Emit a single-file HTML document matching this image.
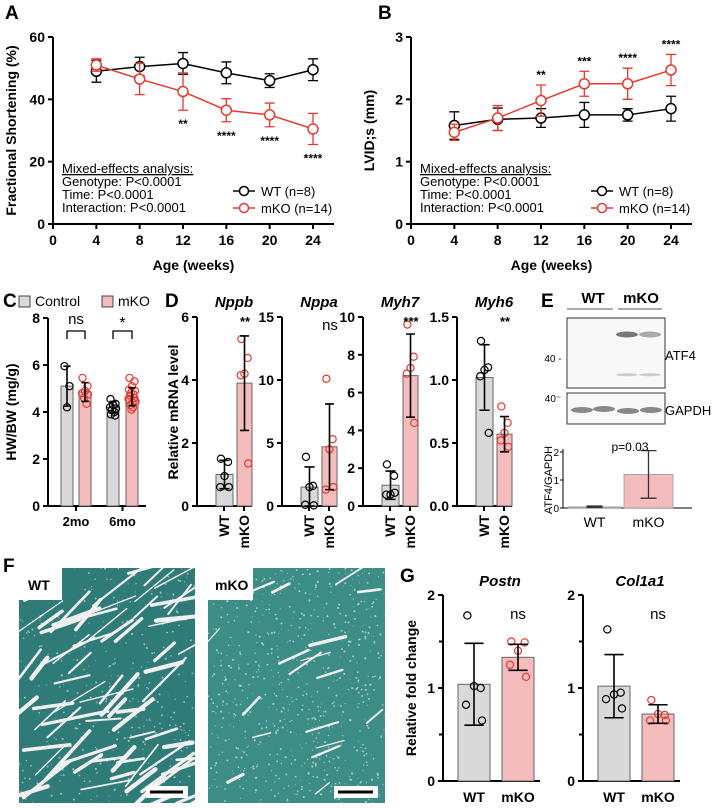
<!DOCTYPE html>
<html><head><meta charset="utf-8">
<style>
html,body{margin:0;padding:0;background:#fff;}
svg{display:block;font-family:"Liberation Sans",Arial,sans-serif;}
</style></head>
<body>
<svg id="fig" width="713" height="808" viewBox="0 0 713 808" xmlns="http://www.w3.org/2000/svg">
<defs>
<clipPath id="clipWT"><path d="M62,568 H195 V803 H19 V600 H62 Z"/></clipPath>
<clipPath id="clipKO"><path d="M253,568 H385 V803 H208 V600 H253 Z"/></clipPath>
</defs>
</svg>
<script>
// ---- Panel A data ----
const ageWeeks=[4,8,12,16,20,24];
const fsWT=[49,50.5,51.5,48.5,46,49.5];
const fsWTErr=[3.5,3,3.5,3.5,2.2,3.5];
const fsKO=[51,46.5,42.5,36.5,35,30.5];
const fsKOErr=[2,5,6,3.7,3.8,5];
const fsStars=['','','**','****','****','****'];
const fsTicks=[0,20,40,60];
// ---- Panel B data ----
const lvWT=[1.58,1.68,1.7,1.75,1.75,1.85];
const lvWTErr=[0.22,0.18,0.15,0.2,0.1,0.2];
const lvKO=[1.47,1.7,1.98,2.25,2.25,2.47];
const lvKOErr=[0.13,0.2,0.25,0.2,0.25,0.25];
const lvStars=['','','**','***','****','****'];
const lvTicks=[0,1,2,3];
const xTicks=[0,4,8,12,16,20,24];
// ---- Panel C data ----
const hwGroups=['2mo','6mo'];
const hwCtrl=[5.1,4.2];
const hwCtrlErr=[0.85,0.25];
const hwKO=[4.85,4.65];
const hwKOErr=[0.4,0.38];
const hwCtrlPts=[[5.95,5.1,4.2],[4.55,4.35,4.3,4.2,4.15,4.1,4.0,3.9,3.85]];
const hwKOPts=[[5.45,5.1,4.9,4.8,4.75,4.6,4.35],[5.45,5.3,5.1,4.95,4.9,4.8,4.75,4.7,4.6,4.55,4.45,4.4,4.3,4.2,4.1]];
const hwSig=['ns','*'];
const hwTicks=[0,2,4,6,8];
// ---- Panel D data ----
const dGenes=['Nppb','Nppa','Myh7','Myh6'];
const dWT=[1.0,1.5,1.1,1.02];
const dWTErr=[0.45,1.6,0.75,0.26];
const dKO=[3.9,4.7,6.9,0.57];
const dKOErr=[1.5,3.4,2.2,0.14];
const dWTPts=[[1.5,1.4,0.95,0.6,0.6],[3.9,1.6,1.5,0.1,0.05],[2.2,1.6,0.6,0.6,0.7],[1.31,1.1,1.08,1.03,0.58]];
const dKOPts=[[5.3,4.7,4.2,4.15,1.35],[10.1,5.3,4.5,1.3,1.5],[9.6,7.9,7.3,7.0,4.4],[0.79,0.66,0.58,0.52,0.47]];
const dSig=['**','ns','***','**'];
const dMax=[6,15,10,1.5];
const dTicks=[[0,2,4,6],[0,5,10,15],[0,2,4,6,8,10],[0,0.5,1.0,1.5]];
const dTickLabels=[['0','2','4','6'],['0','5','10','15'],['0','2','4','6','8','10'],['0.0','0.5','1.0','1.5']];
// ---- Panel E data ----
const atfCats=['WT','mKO'];
const atfVals=[0.04,1.2];
const atfErrLo=[0.02,0.35];
const atfErrHi=[0.07,2.05];
const atfTicks=[0,1,2];
// ---- Panel G data ----
const gGenes=['Postn','Col1a1'];
const gWT=[1.04,1.02];
const gWTErr=[0.44,0.34];
const gKO=[1.33,0.72];
const gKOErr=[0.14,0.1];
const gWTPts=[[1.78,1.0,1.02,0.82,0.65],[1.63,0.95,0.93,0.88,0.78]];
const gKOPts=[[1.5,1.49,1.4,1.25,1.12],[0.87,0.71,0.72,0.65,0.65]];
const gSig=['ns','ns'];
const gTicks=[0,1,2];

const NS='http://www.w3.org/2000/svg';
const svg=document.getElementById('fig');
const RED='#e8392e', GRAY='#d9d9d9', PINK='#f4bcbc';
function mk(tag,attrs,parent){const e=document.createElementNS(NS,tag);for(const k in attrs)e.setAttribute(k,attrs[k]);(parent||svg).appendChild(e);return e;}
function txt(s,x,y,size,weight,anchor,parent,extra){const t=mk('text',Object.assign({x:x,y:y,'font-size':size,'font-weight':weight||'normal','text-anchor':anchor||'middle',fill:'#000'},extra||{}),parent);t.textContent=s;return t;}
function grp(name){const g=mk('g',{});return g;}

// panel letters
[['A',5,19],['B',378,19],['C',3,307],['D',165,307],['E',541,307],['F',3,572],['G',400,582]].forEach(function(p){
  const t=txt(p[0],p[1],p[2],19,'bold','start');
  
  
});

// ---------- Line charts ----------
function lineChart(c){
  const g=grp(c.name);
  const xs=v=>c.ax+v/24*(c.x24-c.ax);
  const ys=v=>c.y0-v/c.ymax*(c.y0-c.yTop);
  const axes=grp(c.name+'-axes');g.appendChild(axes);
  mk('line',{x1:c.ax,y1:c.yTop,x2:c.ax,y2:c.y0,stroke:'#000','stroke-width':2},axes);
  mk('line',{x1:c.ax,y1:c.y0,x2:c.xEnd,y2:c.y0,stroke:'#000','stroke-width':2},axes);
  c.yticks.forEach(v=>{mk('line',{x1:c.ax-5,y1:ys(v),x2:c.ax,y2:ys(v),stroke:'#000','stroke-width':2},axes);
    const t=txt(String(v),c.ax-8,ys(v)+5,14,'bold','end',axes);});
  xTicks.forEach(v=>{mk('line',{x1:xs(v),y1:c.y0,x2:xs(v),y2:c.y0+5,stroke:'#000','stroke-width':2},axes);
    const t=txt(String(v),xs(v),c.y0+21,14,'bold','middle',axes);});
  const yt=txt(c.ytitle,0,0,14,'bold','middle',g,{transform:'translate('+(c.ax-37)+','+((c.y0+c.yTop)/2)+') rotate(-90)'});
  
  const xt=txt('Age (weeks)',(c.ax+c.xEnd)/2,c.y0+46,14,'bold','middle',g);
  
  c.series.forEach(s=>{
    const sg=grp(s.name);g.appendChild(sg);
    let d='';ageWeeks.forEach((a,i)=>{d+=(i?'L':'M')+xs(a)+','+ys(s.v[i]);});
    const ln=mk('path',{d:d,fill:'none',stroke:s.color,'stroke-width':1.5},sg);
    
    ageWeeks.forEach((a,i)=>{
      const x=xs(a),hi=ys(s.v[i]+s.e[i]),lo=ys(s.v[i]-s.e[i]);
      const eb=mk('path',{d:'M'+x+','+hi+'V'+lo+'M'+(x-5)+','+hi+'H'+(x+5)+'M'+(x-5)+','+lo+'H'+(x+5),stroke:s.color,'stroke-width':1.3,fill:'none'},sg);
      
      const pt=mk('circle',{cx:x,cy:ys(s.v[i]),r:5,fill:'#fff',stroke:s.color,'stroke-width':1.5},sg);
      
    });
  });
  ageWeeks.forEach((a,i)=>{if(!c.stars[i])return;
    const y=c.starAbove?ys(c.series[1].v[i]+c.series[1].e[i])-6:ys(c.series[1].v[i]-c.series[1].e[i])+18;
    const t=txt(c.stars[i],xs(a),y,12,'bold','middle',g);});
  const sx=c.ax+9;
  const st=grp(c.name+'-stats-text');g.appendChild(st);
  const l1=txt('Mixed-effects analysis:',sx,c.y0-51,13,'normal','start',st);
  l1.setAttribute('text-decoration','underline');
  txt('Genotype: P<0.0001',sx,c.y0-38,13,'normal','start',st);
  txt('Time: P<0.0001',sx,c.y0-25,13,'normal','start',st);
  txt('Interaction: P<0.0001',sx,c.y0-12,13,'normal','start',st);
  const lg=grp(c.name+'-legend');g.appendChild(lg);
  [['WT (n=8)','#000',c.y0-29],['mKO (n=14)',RED,c.y0-12]].forEach(function(L){
    const e=grp('legend-entry');lg.appendChild(e);
    mk('line',{x1:c.ax+180,y1:L[2]-4,x2:c.ax+202,y2:L[2]-4,stroke:L[1],'stroke-width':1.5},e);
    mk('circle',{cx:c.ax+191,cy:L[2]-4,r:4.5,fill:'#fff',stroke:L[1],'stroke-width':1.5},e);
    txt(L[0],c.ax+208,L[2]+1,13,'normal','start',e);
  });
}
lineChart({name:'fractional-shortening-chart',ax:53,x24:313,xEnd:334,y0:224,yTop:37,ymax:60,yticks:fsTicks,ytitle:'Fractional Shortening (%)',stars:fsStars,starAbove:false,
  series:[{name:'wt',v:fsWT,e:fsWTErr,color:'#000'},{name:'mko',v:fsKO,e:fsKOErr,color:RED}]});
lineChart({name:'lvids-chart',ax:411,x24:671,xEnd:692,y0:224,yTop:37,ymax:3,yticks:lvTicks,ytitle:'LVID;s (mm)',stars:lvStars,starAbove:true,
  series:[{name:'wt',v:lvWT,e:lvWTErr,color:'#000'},{name:'mko',v:lvKO,e:lvKOErr,color:RED}]});

// ---------- Bar helpers ----------
const jit=[-5,5,0,-6,6,-2,3,-4,4,-7,7,1,-3,2,-1];
function bar(g,x0,x1,ys,v,e,pts,fill,ptColor,name){
  const bg=grp(name);g.appendChild(bg);
  const r=mk('rect',{x:x0,y:ys(v),width:x1-x0,height:ys(0)-ys(v),fill:fill,stroke:'#666','stroke-width':1},bg);
  
  const cx=(x0+x1)/2,w=(x1-x0)*0.3;
  pts.forEach((p,i)=>{const c=mk('circle',{cx:cx+jit[i%jit.length]*(x1-x0)/24,cy:ys(p),r:3.6,fill:'none',stroke:ptColor,'stroke-width':1.2},bg);
    });
  const hi=ys(v+e),lo=ys(Math.max(v-e,0));
  const eb=mk('path',{d:'M'+cx+','+hi+'V'+lo+'M'+(cx-w)+','+hi+'H'+(cx+w)+'M'+(cx-w)+','+lo+'H'+(cx+w),stroke:'#000','stroke-width':1.6,fill:'none'},bg);
  
}
function yAxis(g,ax,y0,yTop,ymax,ticks,labels,minor){
  const ys=v=>y0-v/ymax*(y0-yTop);
  mk('line',{x1:ax,y1:yTop,x2:ax,y2:y0,stroke:'#000','stroke-width':2},g);
  ticks.forEach((v,i)=>{mk('line',{x1:ax-5,y1:ys(v),x2:ax,y2:ys(v),stroke:'#000','stroke-width':2},g);
    const t=txt(labels?labels[i]:String(v),ax-8,ys(v)+5,14,'bold','end',g);});
  (minor||[]).forEach(v=>mk('line',{x1:ax-4,y1:ys(v),x2:ax,y2:ys(v),stroke:'#000','stroke-width':2},g));
  return ys;
}

// ---------- Panel C ----------
(function(){
  const g=grp('hw-bw-chart');
  const ys=yAxis(g,48,506,318,8,hwTicks);
  mk('line',{x1:48,y1:506,x2:146,y2:506,stroke:'#000','stroke-width':2},g);
  const gx=[[61,73,79,91],[107,119,126,138]];
  hwGroups.forEach((name,i)=>{
    bar(g,gx[i][0],gx[i][1],ys,hwCtrl[i],hwCtrlErr[i],hwCtrlPts[i],GRAY,'#000','bar-control-'+name);
    bar(g,gx[i][2],gx[i][3],ys,hwKO[i],hwKOErr[i],hwKOPts[i],PINK,RED,'bar-mko-'+name);
    const c=(gx[i][0]+gx[i][3])/2;
    mk('line',{x1:c,y1:506,x2:c,y2:511,stroke:'#000','stroke-width':2},g);
    const t=txt(name,c,526,13,'bold','middle',g);
    const b=mk('path',{d:'M'+(gx[i][0]+6)+',339V331H'+(gx[i][3]-6)+'V339',fill:'none',stroke:'#000','stroke-width':1.3},g);
    
    const s=txt(hwSig[i],c,hwSig[i]==='*'?328:324,hwSig[i]==='*'?16:15,'normal','middle',g);
  });
  const yt=txt('HW/BW (mg/g)',0,0,14,'bold','middle',g,{transform:'translate(16,412) rotate(-90)'});
  
  const lg=grp('hw-legend');g.appendChild(lg);
  mk('rect',{x:19,y:296,width:11,height:11,fill:GRAY,stroke:'#444','stroke-width':1},lg);
  txt('Control',35,306,14,'normal','start',lg);
  mk('rect',{x:102,y:296,width:11,height:11,fill:PINK,stroke:'#444','stroke-width':1},lg);
  txt('mKO',118,306,14,'normal','start',lg);
})();

// ---------- Panel D ----------
(function(){
  const axX=[197,282,363,457];
  dGenes.forEach((gene,i)=>{
    const g=grp('mrna-chart-'+gene.toLowerCase());
    const ys=yAxis(g,axX[i],506,317,dMax[i],dTicks[i],dTickLabels[i]);
    const a=axX[i];
    mk('line',{x1:a,y1:506,x2:a+55,y2:506,stroke:'#000','stroke-width':2},g);
    bar(g,a+19,a+36,ys,dWT[i],dWTErr[i],dWTPts[i],GRAY,'#000','bar-wt');
    bar(g,a+40,a+55,ys,dKO[i],dKOErr[i],dKOPts[i],PINK,RED,'bar-mko');
    const t=txt(gene,a+37,307,15,'bold','middle',g,{'font-style':'italic'});
    const s=txt(dSig[i],a+48,dSig[i]==='ns'?330:326,dSig[i]==='ns'?15:13,dSig[i]==='ns'?'normal':'bold','middle',g);
    [['WT',a+27],['mKO',a+47]].forEach(function(L){
      mk('line',{x1:L[1],y1:506,x2:L[1],y2:511,stroke:'#000','stroke-width':2},g);
      const t2=txt(L[0],0,0,14,'bold','end',g,{transform:'translate('+(L[1]+5)+',515) rotate(-90)'});
    });
  });
  const yt=txt('Relative mRNA level',0,0,14,'bold','middle',svg,{transform:'translate(178,412) rotate(-90)'});
  
})();

// ---------- Panel E ----------
(function(){
  const g=grp('western-blot');
  txt('WT',593,303,15,'bold','middle',g);txt('mKO',641,303,15,'bold','middle',g);
  mk('line',{x1:567,y1:309,x2:613,y2:309,stroke:'#555','stroke-width':1},g);
  mk('line',{x1:618,y1:309,x2:662,y2:309,stroke:'#555','stroke-width':1},g);
  mk('rect',{x:567,y:318,width:98,height:70,fill:'#f8f8f8',stroke:'#333','stroke-width':1},g);
  mk('rect',{x:567,y:393,width:98,height:31,fill:'#f8f8f8',stroke:'#333','stroke-width':1},g);
  [[617,333,3,'#777'],[640,333,3,'#aaa'],[617,374,1.5,'#ccc'],[640,374,1.5,'#ccc']].forEach(b=>mk('ellipse',{cx:b[0]+10,cy:b[1]+b[2]/2,rx:11,ry:b[2],fill:b[3]},g));
  [[572,410],[594,409],[618,411],[641,410]].forEach(b=>mk('ellipse',{cx:b[0]+10,cy:b[1],rx:11,ry:3,fill:'#888'},g));
  txt('40 -',553,362,10,'normal','middle',g);txt('40\u207B',553,402,10,'normal','middle',g);
  txt('ATF4',665,360,13,'normal','start',g);txt('GAPDH',665,415,13,'normal','start',g);
  const c=grp('atf4-quant-chart');
  const y0=508,yTop=452,ax=563;
  const ys=v=>y0-v/2*(y0-yTop);
  mk('line',{x1:ax,y1:yTop-3,x2:ax,y2:y0,stroke:'#000','stroke-width':1},c);
  mk('line',{x1:ax,y1:y0,x2:692,y2:y0,stroke:'#000','stroke-width':1},c);
  atfTicks.forEach(v=>{mk('line',{x1:ax-3,y1:ys(v),x2:ax,y2:ys(v),stroke:'#000','stroke-width':1},c);txt(String(v),ax-4,ys(v)+4,10,'normal','end',c);});
  const bx=[[568,621],[624,673]];
  atfCats.forEach((n,i)=>{
    const r=mk('rect',{x:bx[i][0],y:ys(atfVals[i]),width:bx[i][1]-bx[i][0],height:ys(0)-ys(atfVals[i]),fill:PINK,stroke:'#999','stroke-width':0.8},c);
    
    const cx=(bx[i][0]+bx[i][1])/2;
    const eb=mk('path',{d:'M'+cx+','+ys(atfErrHi[i])+'V'+ys(atfErrLo[i])+'M'+(cx-8)+','+ys(atfErrHi[i])+'H'+(cx+8)+'M'+(cx-8)+','+ys(atfErrLo[i])+'H'+(cx+8),stroke:'#333','stroke-width':1.3,fill:'none'},c);
    
    const t=txt(n,cx,527,14,'normal','middle',c);
  });
  txt('p=0.03',630,451,12,'normal','middle',c);
  const yt=txt('ATF4/GAPDH',0,0,11,'normal','middle',c,{transform:'translate(552,480) rotate(-90)'});
  
})();

// ---------- Panel F (histology texture) ----------
(function(){
  let seed=7;const rnd=()=>{seed=(seed*16807)%2147483647;return seed/2147483647;};
  function tissue(name,clip,x0,x1,n,len,wid,ang,fineN,base,speck){
    const g=grp(name);
    const inner=mk('g',{'clip-path':'url(#'+clip+')'},g);
    mk('rect',{x:x0,y:568,width:x1-x0,height:235,fill:base},inner);
    for(let i=0;i<fineN;i++){mk('circle',{cx:x0+rnd()*(x1-x0),cy:568+rnd()*235,r:0.4+rnd()*0.7,fill:speck,opacity:0.7},inner);}
    for(let i=0;i<n;i++){
      const cx=x0+rnd()*(x1-x0),cy=568+rnd()*235,L=len*(0.5+rnd()),a=ang+(rnd()-0.5)*50;
      const rad=a*Math.PI/180,dx=Math.cos(rad)*L/2,dy=Math.sin(rad)*L/2;
      mk('line',{x1:cx-dx,y1:cy-dy,x2:cx+dx,y2:cy+dy,stroke:'#f0f0f0','stroke-width':wid*(0.4+rnd()),'stroke-linecap':'round'},inner);
    }
    return g;
  }
  tissue('histology-wt','clipWT',19,195,75,45,3.2,-28,400,'#2e7b77','#c8dbd9');
  tissue('histology-mko','clipKO',208,385,18,30,2.5,-30,700,'#3c8d86','#d2e5e2');
  txt('WT',28,590,14,'bold','start');txt('mKO',215,590,14,'bold','start');
  mk('rect',{x:146,y:786,width:42,height:12,fill:'#fff'});mk('line',{x1:150,y1:792,x2:183,y2:792,stroke:'#000','stroke-width':3});
  mk('rect',{x:334,y:786,width:44,height:12,fill:'#fff'});mk('line',{x1:338,y1:792,x2:373,y2:792,stroke:'#000','stroke-width':3});
})();

// ---------- Panel G ----------
(function(){
  const axX=[443,583];
  gGenes.forEach((gene,i)=>{
    const g=grp('fibrosis-chart-'+gene.toLowerCase());
    const a=axX[i];
    const ys=yAxis(g,a,781,595,2,gTicks,null,[0.5,1.5]);
    mk('line',{x1:a,y1:781,x2:a+97,y2:781,stroke:'#000','stroke-width':2},g);
    bar(g,a+15,a+47,ys,gWT[i],gWTErr[i],gWTPts[i],GRAY,'#000','bar-wt');
    bar(g,a+59,a+91,ys,gKO[i],gKOErr[i],gKOPts[i],PINK,RED,'bar-mko');
    const t=txt(gene,a+57,586,15,'bold','middle',g,{'font-style':'italic'});
    const s=txt(gSig[i],a+75,619,15,'normal','middle',g);
    [['WT',a+31],['mKO',a+75]].forEach(function(L){
      const t2=txt(L[0],L[1],802,14,'bold','middle',g);
    });
  });
  const yt=txt('Relative fold change',0,0,14,'bold','middle',svg,{transform:'translate(416,688) rotate(-90)'});
  
})();
</script>
</body></html>
